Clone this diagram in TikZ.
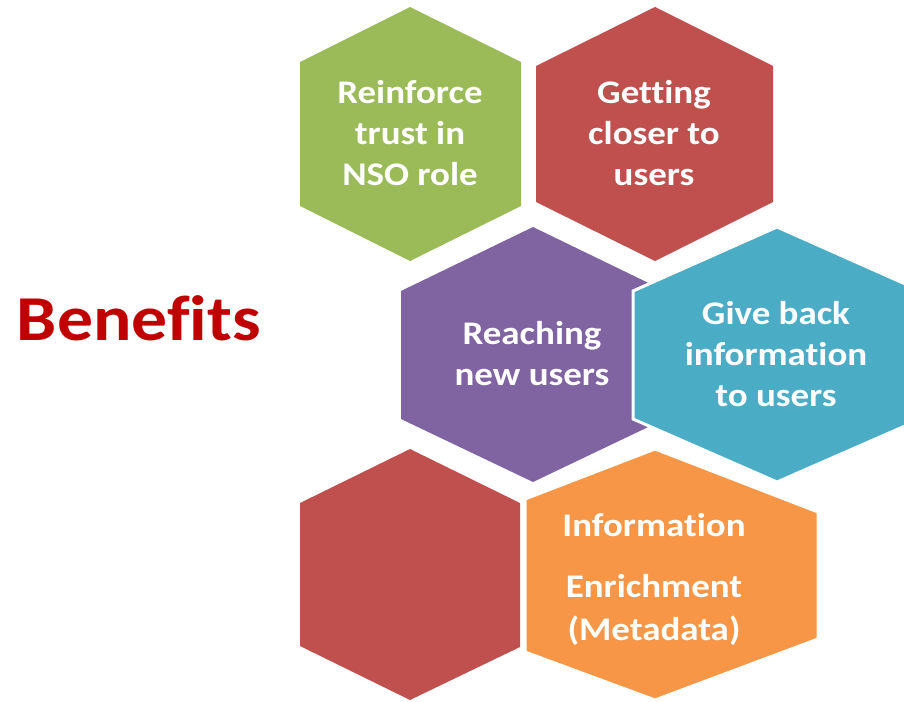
\documentclass[tikz,border=0pt]{standalone}
\usepackage{fontspec}
\setmainfont{Carlito}[FakeStretch=1.12,Ligatures=NoCommon]
\definecolor{hgreen}{HTML}{9BBB59}
\definecolor{hred}{HTML}{C0504D}
\definecolor{hpurple}{HTML}{8064A2}
\definecolor{hcyan}{HTML}{4BACC6}
\definecolor{horange}{HTML}{F79646}
\definecolor{titlered}{HTML}{C00000}
\begin{document}
\begin{tikzpicture}[x=1pt,y=-1pt,
  hexlabel/.style={text=white,font=\fontsize{33}{41}\selectfont\bfseries,align=center,inner sep=0pt},
  outlined/.style={draw=white,line width=3pt,line join=miter}]
\useasboundingbox (0,0) rectangle (904,701);
% hexagons
\fill[hgreen] (410,7) -- (521,62) -- (521,206) -- (410,261) -- (300,206) -- (300,62) -- cycle;
\fill[hred] (655,7) -- (773,66) -- (773,202) -- (655,261) -- (536,202) -- (536,66) -- cycle;
\fill[hpurple] (533,227) -- (665,291) -- (665,419) -- (533,482) -- (401,419) -- (401,291) -- cycle;
\filldraw[hcyan,outlined] (777,227) -- (921,291) -- (921,419) -- (777,482) -- (633,419) -- (633,291) -- cycle;
\fill[hred] (410,449) -- (520,503) -- (520,647) -- (410,700) -- (300,646) -- (300,503) -- cycle;
\filldraw[horange,outlined] (655,449) -- (818,512) -- (818,639) -- (655,700) -- (525,652) -- (525,499) -- cycle;
% labels
\node[hexlabel] (t1) at (410,133) {Reinforce\\trust in\\NSO role};
\node[hexlabel] (t2) at (654,133) {Getting\\closer to\\users};
\node[hexlabel] (t3) at (532,354) {Reaching\\new users};
\node[hexlabel] (t4) at (776,354) {Give back\\information\\to users};
\node[hexlabel] (t5) at (654,579) {Information\\[20pt]Enrichment\\[2pt](Metadata)};
\node[text=titlered,font=\fontsize{64}{70}\selectfont\bfseries,inner sep=0pt] (title) at (139,318) {Benefits};
\end{tikzpicture}
\end{document}
